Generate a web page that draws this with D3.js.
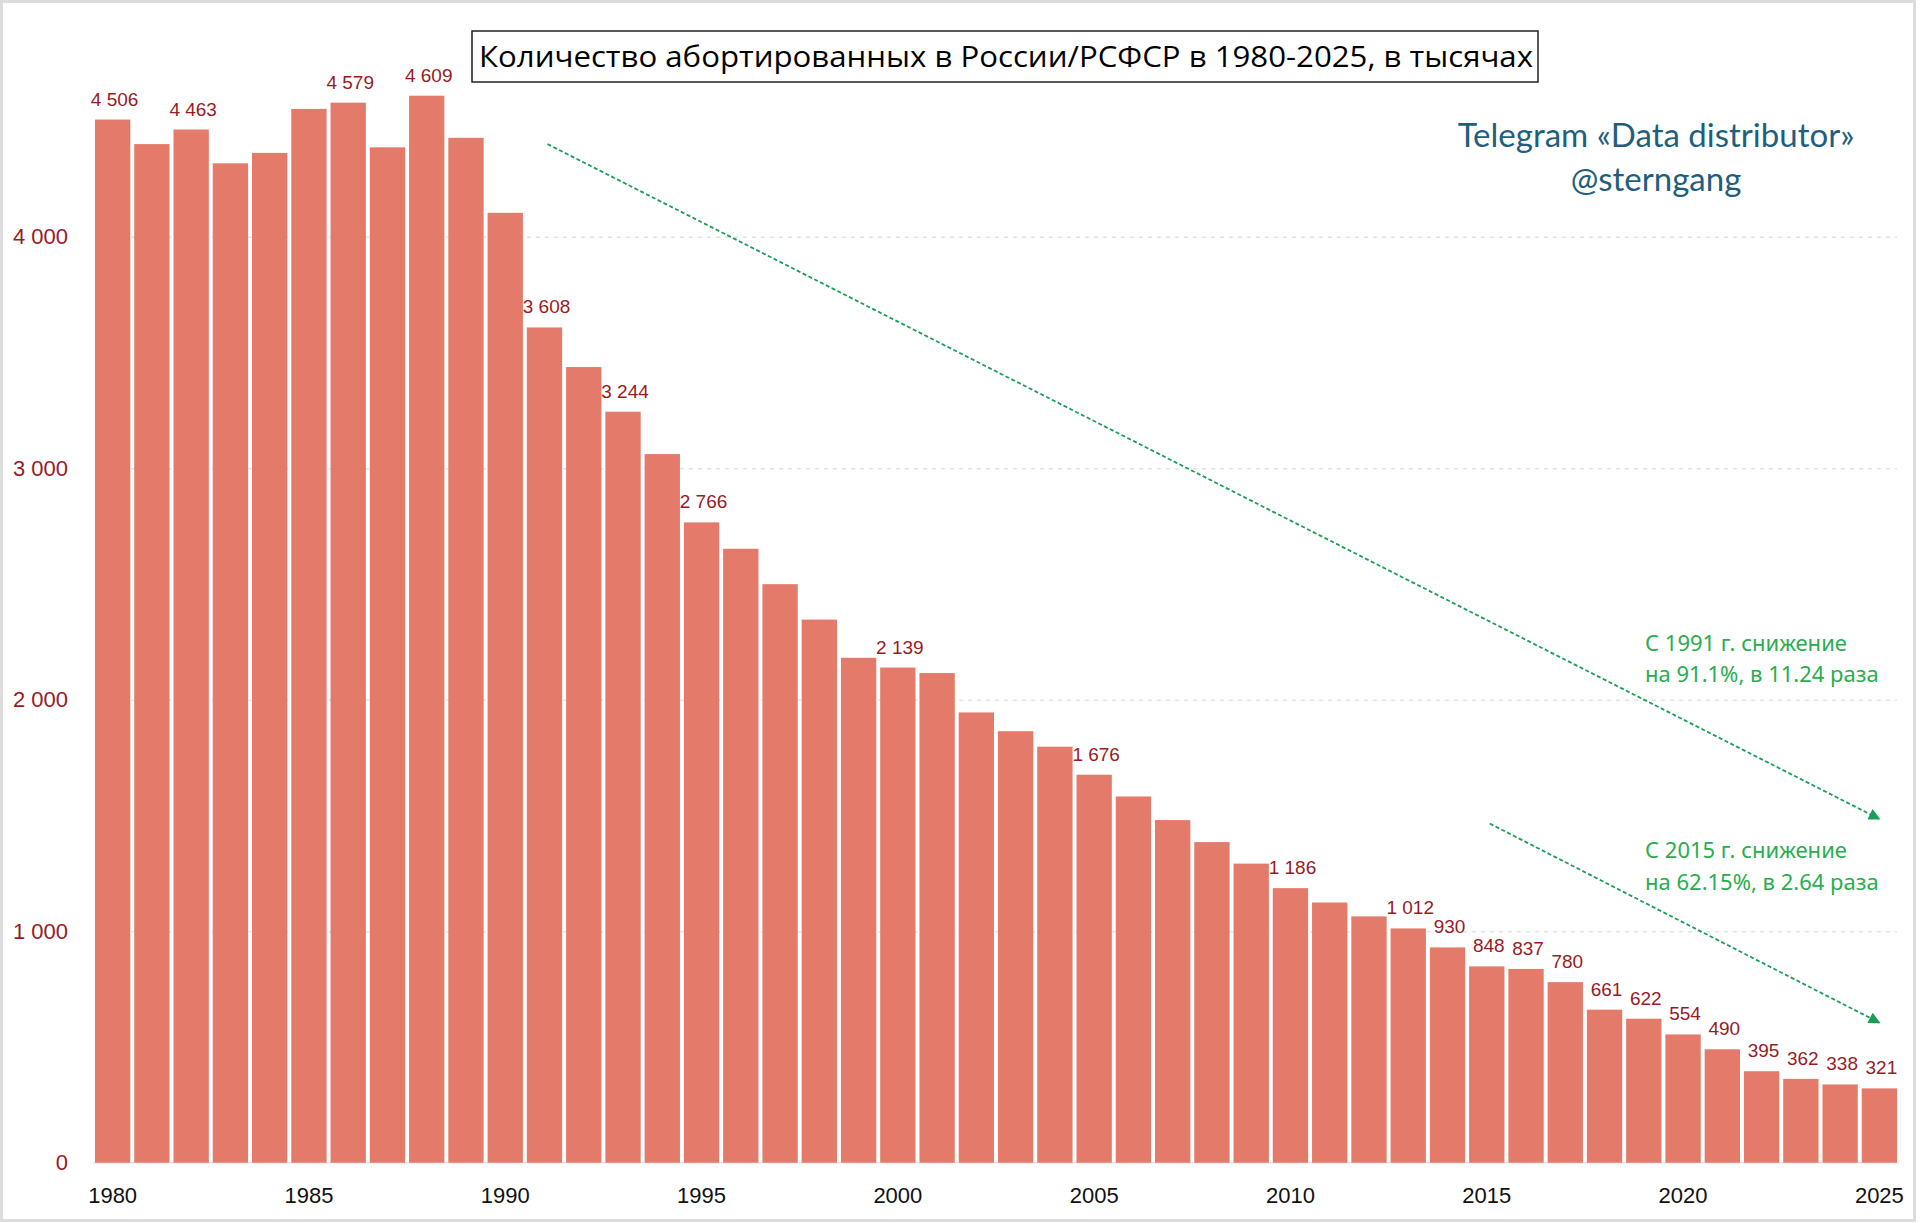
<!DOCTYPE html>
<html>
<head>
<meta charset="utf-8">
<script src="https://cdn.jsdelivr.net/npm/d3@7"></script>
<style>
  body { margin: 0; background: #fff; }
  svg { display: block; }
</style>
</head>
<body>
<svg id="chart"></svg>
<script>
// years on the x axis
var years = [1980, 1981, 1982, 1983, 1984, 1985, 1986, 1987, 1988, 1989,
  1990, 1991, 1992, 1993, 1994, 1995, 1996, 1997, 1998, 1999,
  2000, 2001, 2002, 2003, 2004, 2005, 2006, 2007, 2008, 2009,
  2010, 2011, 2012, 2013, 2014, 2015, 2016, 2017, 2018, 2019,
  2020, 2021, 2022, 2023, 2024, 2025];
// abortions, thousands
var abortions = [4506, 4400, 4463, 4317, 4362, 4552, 4579, 4386, 4609, 4427,
  4103, 3608, 3437, 3244, 3061, 2766, 2652, 2499, 2346, 2181,
  2139, 2115, 1945, 1864, 1797, 1676, 1582, 1480, 1385, 1292,
  1186, 1124, 1064, 1012, 930, 848, 837, 780, 661, 622,
  554, 490, 395, 362, 338, 321];
// bars that carry a value label
var labelYears = [1980, 1982, 1986, 1988, 1991, 1993, 1995, 2000, 2005, 2010,
  2013, 2014, 2015, 2016, 2017, 2018, 2019, 2020, 2021, 2022, 2023, 2024, 2025];
var xTickYears = [1980, 1985, 1990, 1995, 2000, 2005, 2010, 2015, 2020, 2025];
var yTicks = [0, 1000, 2000, 3000, 4000];
// trend arrows: [year, value] start and end
var trend1991 = [[1991, 4400], [2025, 1485]];
var trend2015 = [[2015, 1465], [2025, 605]];

var titleText = "Количество абортированных в России/РСФСР в 1980-2025, в тысячах";
var noteLines1991 = ["С 1991 г. снижение", "на 91.1%, в 11.24 раза"];
var noteLines2015 = ["С 2015 г. снижение", "на 62.15%, в 2.64 раза"];

var W = 1920, H = 1223;
var barColor = "#e47b6a", labelColor = "#9a1b1f", green = "#2aad4f", arrowGreen = "#1a9e58";
var numFont = "'Liberation Sans', Arial, sans-serif";

var ru = d3.formatLocale({decimal: ",", thousands: "\u00a0", grouping: [3], currency: ["", ""]});
var fmt = ru.format(",d");

var svg = d3.select("#chart").attr("width", W).attr("height", H);

svg.append("rect").attr("x", 1.5).attr("y", 1.5).attr("width", 1913).attr("height", 1219)
  .attr("fill", "#fff").attr("stroke", "#dcdcdc").attr("stroke-width", 3);

var x = d3.scaleBand().domain(years).range([93, 1899]).paddingInner(0.1).paddingOuter(0.05);
var y = d3.scaleLinear().domain([0, 4000]).range([1162.7, 236.7]);
var bw = x.bandwidth();
var data = years.map(function(yr, i){ return {year: yr, value: abortions[i]}; });

// grid
var grid = svg.append("g").attr("transform", "translate(" + x(1980) + ",0)")
  .call(d3.axisLeft(y).tickValues(yTicks.slice(1)).tickSize(-(x(2025) + bw - x(1980))).tickFormat(""));
grid.select(".domain").remove();
grid.selectAll("line").attr("stroke", "#e3e3e3").attr("stroke-width", 1.5).attr("stroke-dasharray", "4 5");

svg.append("line").attr("x1", x(1980) - 2).attr("x2", x(2025) + bw + 2)
  .attr("y1", y(0)).attr("y2", y(0)).attr("stroke", "#e6e0de").attr("stroke-width", 1.5);

// bars
svg.append("g").selectAll("rect").data(data).enter().append("rect")
  .attr("x", function(d){ return x(d.year); })
  .attr("y", function(d){ return y(d.value); })
  .attr("width", bw)
  .attr("height", function(d){ return y(0) - y(d.value); })
  .attr("fill", barColor);

// value labels
svg.append("g").selectAll("text").data(data.filter(function(d){ return labelYears.indexOf(d.year) >= 0; }))
  .enter().append("text")
  .attr("x", function(d){ return x(d.year) + bw / 2 + 2; })
  .attr("y", function(d){ return y(d.value) - 14; })
  .attr("text-anchor", "middle")
  .attr("font-family", numFont).attr("font-size", 19)
  .attr("fill", labelColor)
  .text(function(d){ return fmt(d.value); });

// y axis labels
var yAxis = svg.append("g").attr("transform", "translate(68,0)")
  .call(d3.axisLeft(y).tickValues(yTicks).tickSize(0).tickPadding(0).tickFormat(fmt));
yAxis.select(".domain").remove();
yAxis.selectAll("text").attr("font-family", numFont).attr("font-size", 22).attr("fill", labelColor);

// x axis labels
var xAxis = svg.append("g").attr("transform", "translate(0," + y(0) + ")")
  .call(d3.axisBottom(x).tickValues(xTickYears).tickSize(0).tickPadding(25));
xAxis.select(".domain").remove();
xAxis.selectAll("text").attr("font-family", numFont).attr("font-size", 22).attr("fill", "#111");

// arrows
svg.append("defs").append("marker")
  .attr("id", "head").attr("viewBox", "0 0 10 10").attr("refX", 9).attr("refY", 5)
  .attr("markerWidth", 7).attr("markerHeight", 6.5).attr("markerUnits", "strokeWidth")
  .attr("orient", "auto")
  .append("path").attr("d", "M0,0 L10,5 L0,10 Z").attr("fill", arrowGreen);

[trend1991, trend2015].forEach(function(t){
  svg.append("line")
    .attr("x1", x(t[0][0]) + bw / 2 + 3).attr("y1", y(t[0][1]))
    .attr("x2", x(t[1][0]) + bw / 2).attr("y2", y(t[1][1]))
    .attr("stroke", arrowGreen).attr("stroke-width", 1.8)
    .attr("stroke-dasharray", "4 2.5")
    .attr("marker-end", "url(#head)");
});

function note(lines, top){
  svg.append("g").selectAll("text").data(lines).enter().append("text")
    .attr("x", 1645).attr("y", function(d, i){ return top + i * 31.5; })
    .attr("font-family", "'Noto Sans', Lato, sans-serif").attr("font-size", 22)
    .attr("fill", green).text(function(d){ return d; });
}
note(noteLines1991, 650.5);
note(noteLines2015, 858);

// title
svg.append("rect").attr("x", 472).attr("y", 31).attr("width", 1066).attr("height", 51)
  .attr("fill", "#fff").attr("stroke", "#222").attr("stroke-width", 1.5);
svg.append("text").attr("x", 479).attr("y", 66.5)
  .attr("font-family", "'Open Sans', sans-serif").attr("font-size", 29)
  .attr("textLength", 1054).attr("lengthAdjust", "spacingAndGlyphs")
  .attr("fill", "#000").text(titleText);

// watermark
var wm = svg.append("g").attr("font-family", "Lato, 'Noto Sans', sans-serif")
  .attr("font-size", 33).attr("fill", "#1f5f7d").attr("text-anchor", "middle");
wm.append("text").attr("x", 1656).attr("y", 146.5).text("Telegram «Data distributor»");
wm.append("text").attr("x", 1656).attr("y", 191).text("@sterngang");
</script>
</body>
</html>
